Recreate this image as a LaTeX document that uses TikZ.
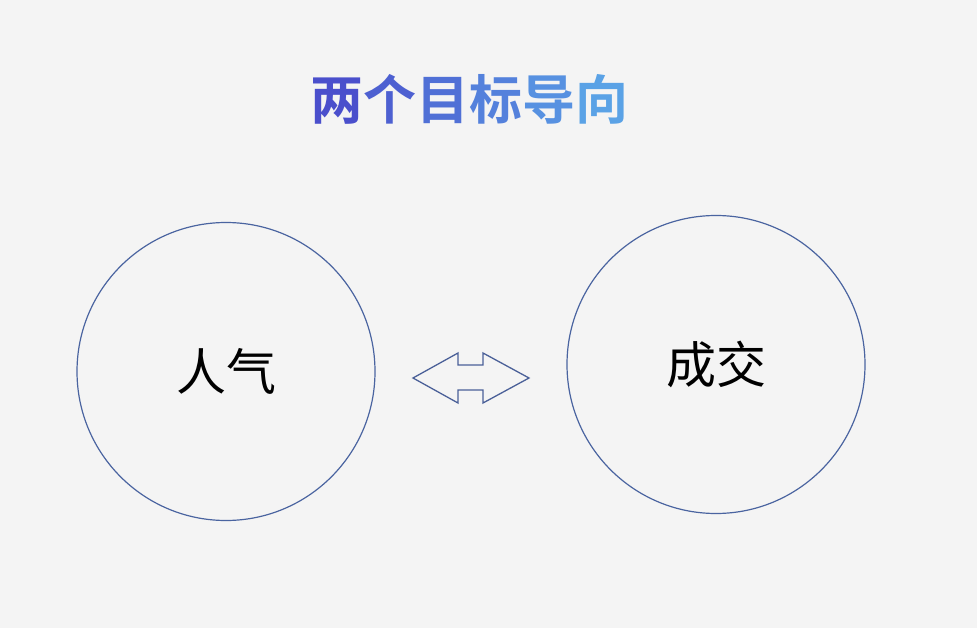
\documentclass[tikz,border=0pt]{standalone}
\usepackage{fontspec}
\newfontfamily\cjk{Noto Sans CJK SC}
\newfontfamily\cjkbold{Noto Sans CJK SC Bold}
\definecolor{bgc}{HTML}{F4F4F4}
\definecolor{ringc}{HTML}{4A64A0}
\definecolor{arrowc}{HTML}{4A6098}
\definecolor{tA}{HTML}{4A4FCC}
\definecolor{tB}{HTML}{5AA2E6}
\tikzset{
  ring/.style={circle, draw=ringc, line width=1.2pt, minimum size=298pt, inner sep=0pt, font=\cjk\fontsize{50}{50}\selectfont, text=black},
  dblarrow/.style={draw=arrowc, line width=1.3pt, line join=miter},
  titletext/.style={font=\cjkbold\fontsize{53}{53}\selectfont, inner sep=0pt}
}
\begin{document}
\begin{tikzpicture}[x=1pt,y=-1pt]
\fill[bgc] (0,0) rectangle (977,628);
\useasboundingbox (0,0) rectangle (977,628);
\node[titletext] (title) at (469,99) {\textcolor{tA}{两}\textcolor{tA!80!tB}{个}\textcolor{tA!60!tB}{目}\textcolor{tA!40!tB}{标}\textcolor{tA!20!tB}{导}\textcolor{tB}{向}};
\node[ring] (left) at (226,371.5) {人气};
\node[ring] (right) at (716,364.5) {成交};
\draw[dblarrow] (413,378) -- (458,353) -- (458,365) -- (483,365) -- (483,353) -- (529,378) -- (483,403) -- (483,390) -- (458,390) -- (458,403) -- cycle;
\end{tikzpicture}
\end{document}
